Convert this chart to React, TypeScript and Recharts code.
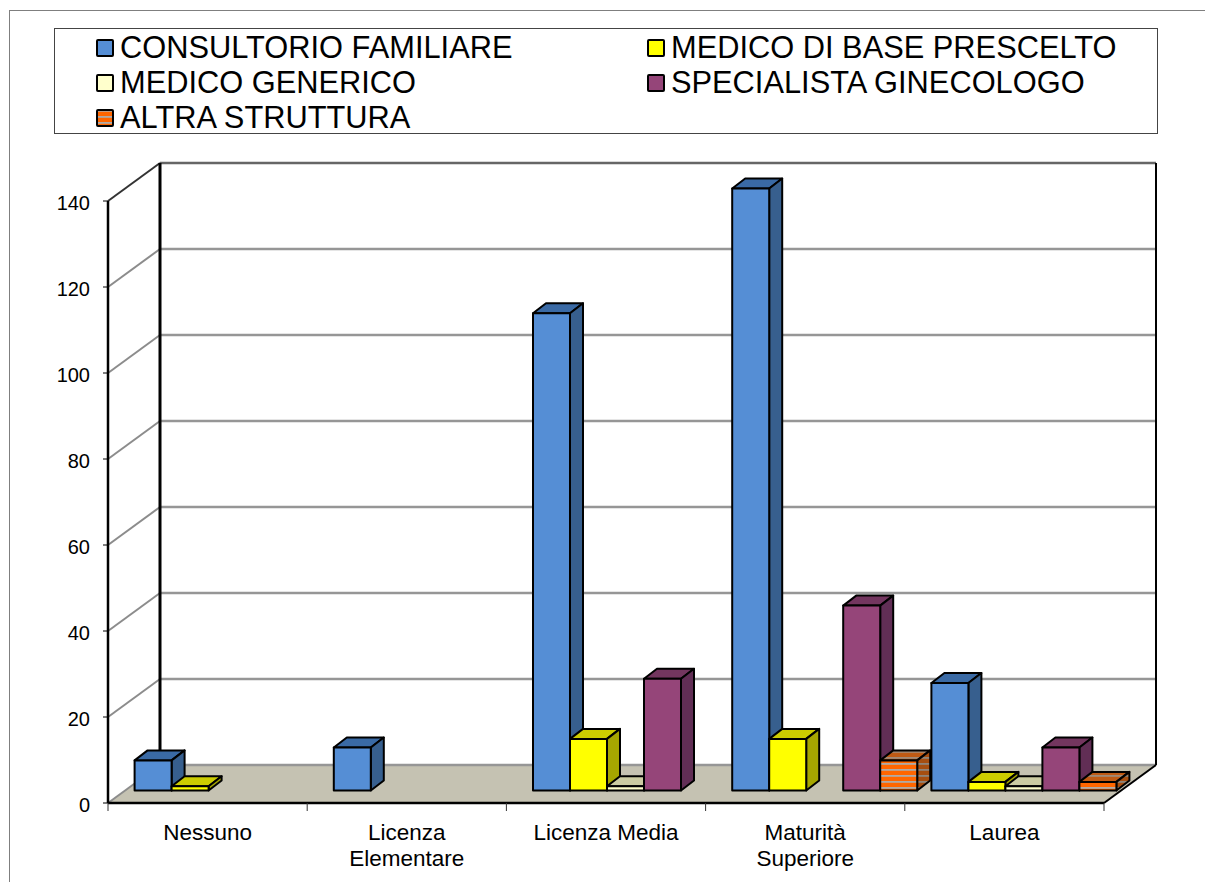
import { BarChart, Bar, XAxis, YAxis, CartesianGrid, Legend } from "recharts";

const categories = ["Nessuno", "Licenza\nElementare", "Licenza Media", "Maturità\nSuperiore", "Laurea"];
const seriesNames = [
  "CONSULTORIO FAMILIARE",
  "MEDICO DI BASE PRESCELTO",
  "MEDICO GENERICO",
  "SPECIALISTA GINECOLOGO",
  "ALTRA STRUTTURA",
];
const consultorio = [7, 10, 111, 140, 25];
const medicoBase = [1, 0, 12, 12, 2];
const medicoGenerico = [0, 0, 1, 0, 1];
const ginecologo = [0, 0, 26, 43, 10];
const altra = [0, 0, 0, 7, 2];
const yTicks = [0, 20, 40, 60, 80, 100, 120, 140];

const data = categories.map((name, i) => ({
  name,
  consultorio: consultorio[i],
  medicoBase: medicoBase[i],
  medicoGenerico: medicoGenerico[i],
  ginecologo: ginecologo[i],
  altra: altra[i],
}));

const FONT = "'Liberation Sans', Arial, sans-serif";
// depth of the fake 3D box
const WALL_DX = 52;
const WALL_DY = 38;
const BAR_DX = 19;
const BAR_DY = 12.5;
const DEPTH_X = 13;
const DEPTH_Y = 10;
const BAND = 996 / 5;

const box3d = (top: string, side: string) => (props: any) => {
  const { x, y, width, height, fill } = props;
  if (!height || height <= 0) return <g />;
  const fx = x + BAR_DX;
  const fy = y - BAR_DY;
  const topPts = `${fx},${fy} ${fx + DEPTH_X},${fy - DEPTH_Y} ${fx + width + DEPTH_X},${fy - DEPTH_Y} ${fx + width},${fy}`;
  const sidePts = `${fx + width},${fy} ${fx + width + DEPTH_X},${fy - DEPTH_Y} ${fx + width + DEPTH_X},${fy + height - DEPTH_Y} ${fx + width},${fy + height}`;
  return (
    <g stroke="#000" strokeWidth={2} strokeLinejoin="round">
      <polygon points={topPts} fill={top} />
      <polygon points={sidePts} fill={side} />
      <rect x={fx} y={fy} width={width} height={height} fill={fill} />
    </g>
  );
};

const gridLine = (props: any) => {
  const { x1, x2, y1 } = props;
  const isFloor = y1 > 800;
  const isTop = y1 < 205;
  const backY = y1 - WALL_DY;
  return (
    <g key={props.key}>
      {isFloor && (
        <polygon
          points={`${x1},${y1} ${x2},${y1} ${x2 + WALL_DX},${backY} ${x1 + WALL_DX},${backY}`}
          fill="#C5C2B2"
        />
      )}
      <line x1={x1} y1={y1} x2={x1 + WALL_DX} y2={backY} stroke={isTop ? "#333" : "#8C8C8C"} strokeWidth={2} />
      <line x1={x1 + WALL_DX} y1={backY} x2={x2 + WALL_DX} y2={backY} stroke={isTop ? "#666" : "#969696"} strokeWidth={2.5} />
      {isFloor && <line x1={x2} y1={y1} x2={x2 + WALL_DX} y2={backY} stroke="#000" strokeWidth={2} />}
      {isTop && (
        <>
          <line x1={x1 + WALL_DX} y1={backY} x2={x1 + WALL_DX} y2={backY + 602} stroke="#000" strokeWidth={3} />
          <line x1={x2 + WALL_DX} y1={backY} x2={x2 + WALL_DX} y2={backY + 602} stroke="#000" strokeWidth={2} />
        </>
      )}
    </g>
  );
};

const CategoryTick = (props: any) => {
  const { x, y, payload, index } = props;
  const lines = String(payload.value).split("\n");
  return (
    <g>
      <line x1={x - BAND / 2} y1={803} x2={x - BAND / 2} y2={811} stroke="#333" strokeWidth={1} />
      {index === categories.length - 1 && (
        <line x1={x + BAND / 2} y1={803} x2={x + BAND / 2} y2={811} stroke="#333" strokeWidth={1} />
      )}
      <text x={x} y={y} textAnchor="middle" fontFamily={FONT} fontSize={22.5} fill="#000">
        {lines.map((l, i) => (
          <tspan key={l} x={x} y={840 + i * 25.5}>
            {l}
          </tspan>
        ))}
      </text>
    </g>
  );
};

const LegendBox = ({ payload }: any) => {
  const items = seriesNames.map((n) => (payload || []).find((p: any) => p.value === n)).filter(Boolean);
  return (
    <div
      style={{
        boxSizing: "border-box",
        width: 1104,
        height: 106,
        border: "1.5px solid #444",
        background: "#fff",
        padding: "1px 0 0 41px",
        display: "grid",
        gridTemplateColumns: "551px 500px",
        gridAutoRows: "35px",
        fontFamily: FONT,
        fontSize: 30.8,
        color: "#000",
      }}
    >
      {items.map((item: any) => (
        <div key={item.value} style={{ display: "flex", alignItems: "center", whiteSpace: "nowrap", height: 35 }}>
          <svg width={18} height={18} style={{ marginRight: 6, flex: "none" }}>
            <rect x={1} y={1} width={16} height={16} rx={1} fill={item.color} stroke="#000" strokeWidth={2} />
          </svg>
          {item.value}
        </div>
      ))}
    </div>
  );
};

export default function App() {
  return (
    <div style={{ position: "absolute", left: 0, top: 0, width: 1205, height: 882, overflow: "hidden", background: "#fff" }}>
      <div
        style={{
          position: "absolute",
          left: 9,
          top: 10,
          width: 1196,
          height: 872,
          borderTop: "1.5px solid #7F7F7F",
          borderLeft: "1.5px solid #7F7F7F",
        }}
      />
      <BarChart
        width={1205}
        height={882}
        data={data}
        margin={{ top: 201, right: 101, bottom: 19, left: 48 }}
        barCategoryGap={7.6}
        barGap={0}
        style={{ position: "absolute", left: 0, top: 0 }}
      >
        <defs>
          <pattern id="altraFront" width={6} height={6} patternUnits="userSpaceOnUse">
            <rect width={6} height={6} fill="#FF6600" />
            <rect y={1} width={6} height={1.8} fill="#B0AAA6" />
          </pattern>
          <pattern id="altraTop" width={6} height={6} patternUnits="userSpaceOnUse">
            <rect width={6} height={6} fill="#BF5A14" />
            <rect y={1} width={6} height={1.8} fill="#A08A78" />
          </pattern>
          <pattern id="altraSide" width={6} height={6} patternUnits="userSpaceOnUse">
            <rect width={6} height={6} fill="#A64E10" />
            <rect y={1} width={6} height={1.8} fill="#8F8478" />
          </pattern>
        </defs>
        <CartesianGrid vertical={false} horizontal={gridLine} />
        <XAxis
          dataKey="name"
          height={60}
          interval={0}
          tick={CategoryTick}
          tickLine={false}
          axisLine={{ stroke: "#000", strokeWidth: 2.5 }}
        />
        <YAxis
          width={60}
          domain={[0, 140]}
          ticks={yTicks}
          tickSize={5}
          tickMargin={13}
          tick={{ fontFamily: FONT, fontSize: 20, fill: "#000", dy: 1.5 }}
          tickLine={{ stroke: "#000" }}
          axisLine={{ stroke: "#000", strokeWidth: 2.5 }}
        />
        <Legend
          content={LegendBox}
          layout="horizontal"
          align="center"
          verticalAlign="middle"
          wrapperStyle={{ left: 54, top: 28, width: 1104, height: 106 }}
        />
        <Bar dataKey="consultorio" name={seriesNames[0]} fill="#558ED5" shape={box3d("#3A6AA5", "#375F8E")} isAnimationActive={false} />
        <Bar dataKey="medicoBase" name={seriesNames[1]} fill="#FFFF00" shape={box3d("#CCCC00", "#A6A600")} isAnimationActive={false} />
        <Bar dataKey="medicoGenerico" name={seriesNames[2]} fill="#FFFFCC" shape={box3d("#CCCCA3", "#A6A685")} isAnimationActive={false} />
        <Bar dataKey="ginecologo" name={seriesNames[3]} fill="#954579" shape={box3d("#73365F", "#612E55")} isAnimationActive={false} />
        <Bar dataKey="altra" name={seriesNames[4]} fill="url(#altraFront)" shape={box3d("url(#altraTop)", "url(#altraSide)")} isAnimationActive={false} />
      </BarChart>
    </div>
  );
}
